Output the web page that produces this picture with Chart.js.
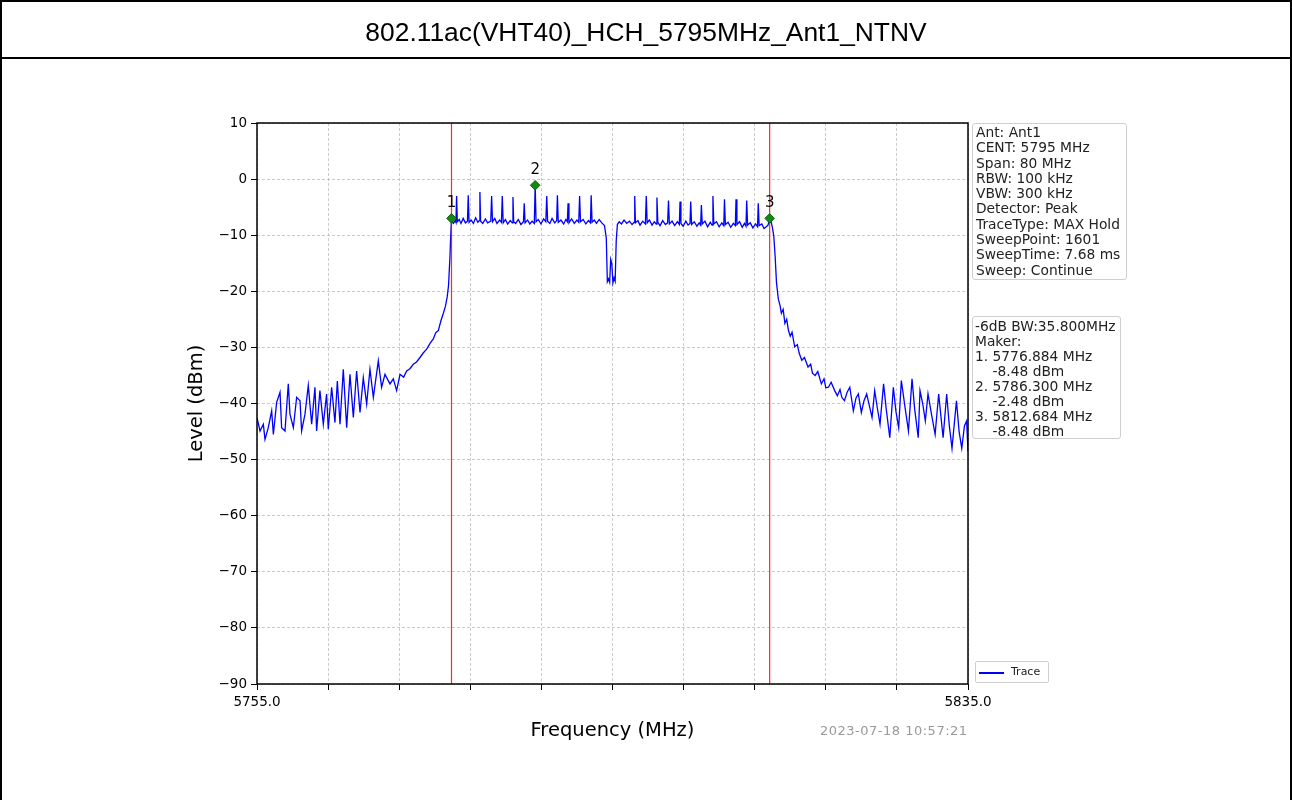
<!DOCTYPE html>
<html><head><meta charset="utf-8">
<script src="https://cdn.jsdelivr.net/npm/chart.js@4/dist/chart.umd.min.js"></script>
<style>
html,body{margin:0;padding:0;background:#fff;}
#page{position:relative;width:1292px;height:800px;overflow:hidden;font-family:"DejaVu Sans",sans-serif;}
#c{position:absolute;left:0;top:0;}
#frame{position:absolute;left:0;top:0;width:1288px;height:800px;border:2px solid #000;border-bottom:none;pointer-events:none;}
#sep{position:absolute;left:0;top:57px;width:1292px;height:2px;background:#000;}
#title{position:absolute;left:0;top:0;width:1292px;height:58px;line-height:64px;text-align:center;font-family:"Liberation Sans",Arial,sans-serif;font-size:26.4px;color:#000;}
.box{position:absolute;border:1px solid #cfcfcf;border-radius:3px;background:#fff;color:#222;font-size:13.8px;white-space:pre;}
.box div{height:15.3px;line-height:15.3px;}
#info{left:972px;top:123px;width:150px;height:154px;padding:1px 0 0 3px;}
#mk{left:972px;top:316px;width:145px;height:119px;padding:2px 0 0 2px;}
#mk div{height:15px;line-height:15px;}
#legend{position:absolute;left:975px;top:661px;width:72px;height:20px;border:1px solid #cfcfcf;border-radius:2px;}
#legend .ln{position:absolute;left:3px;top:10px;width:25px;height:1.5px;background:#0000ff;}
#legend .tx{position:absolute;left:35px;top:2px;font-size:11px;line-height:16px;color:#222;}
#stamp{position:absolute;left:820px;top:723px;font-size:13px;letter-spacing:0.5px;line-height:16px;color:#999;}
</style></head>
<body><div id="page">
<canvas id="c" width="1292" height="800"></canvas>
<div id="title"></div>
<div id="sep"></div>
<div id="frame"></div>
<div class="box" id="info"></div>
<div class="box" id="mk"></div>
<div id="legend"><div class="ln"></div><div class="tx"></div></div>
<div id="stamp"></div>
</div>
<script>
// ---------- data ----------
const chartTitle = "802.11ac(VHT40)_HCH_5795MHz_Ant1_NTNV";
const xTitle = "Frequency (MHz)";
const yTitle = "Level (dBm)";
const timeStamp = "2023-07-18 10:57:21";
const legendLabel = "Trace";
const xMin = 5755, xMax = 5835, xStep = 8;
const yMin = -90, yMax = 10, yStep = 10;
const infoLines = ["Ant: Ant1","CENT: 5795 MHz","Span: 80 MHz","RBW: 100 kHz","VBW: 300 kHz","Detector: Peak","TraceType: MAX Hold","SweepPoint: 1601","SweepTime: 7.68 ms","Sweep: Continue"];
const markerLines = ["-6dB BW:35.800MHz","Maker:","1. 5776.884 MHz","    -8.48 dBm","2. 5786.300 MHz","    -2.48 dBm","3. 5812.684 MHz","    -8.48 dBm"];
const markerNames = ["1","2","3"];
const markerFreq = [5776.884, 5786.300, 5812.684];
const markerLevel = [-7.0, -1.1, -7.0];   // plotted positions
const lineFreq = [5776.884, 5812.684];     // red vertical lines

const leftSkirt = [
[5755.0,-42.5],[5755.34,-44.9],[5755.71,-43.7],[5755.9,-46.4],[5756.27,-44.3],[5756.65,-41.3],[5756.84,-45.5],
[5757.21,-39.8],[5757.59,-38.0],[5757.77,-44.3],[5758.15,-44.9],[5758.52,-36.5],[5758.71,-41.9],[5759.09,-44.3],
[5759.46,-38.9],[5759.84,-39.5],[5760.02,-44.9],[5760.4,-41.9],[5760.77,-36.8],[5761.15,-43.7],[5761.52,-37.1],
[5761.71,-44.9],[5762.08,-37.7],[5762.46,-43.7],[5762.83,-38.3],[5763.02,-44.6],[5763.4,-37.1],[5763.77,-43.4],
[5764.04,-36.0],[5764.34,-43.7],[5764.71,-33.9],[5765.09,-44.3],[5765.46,-34.8],[5765.84,-42.5],[5766.21,-34.2],
[5766.59,-41.6],[5766.96,-35.4],[5767.34,-40.1],[5767.71,-33.9],[5768.09,-38.9],[5768.65,-32.4],[5769.02,-37.1],
[5769.4,-34.8],[5769.96,-36.5],[5770.34,-35.6],[5770.71,-37.7],[5771.09,-34.8],[5771.5,-35.3],[5771.84,-34.2],
[5772.2,-33.8],[5772.59,-33.0],[5772.95,-32.6],[5773.34,-31.8],[5773.7,-31.0],[5774.09,-30.3],[5774.5,-29.2],
[5774.84,-28.5],[5775.1,-27.4],[5775.4,-27.0],[5775.7,-25.2],[5775.95,-24.0],[5776.2,-22.7],[5776.4,-21.0],
[5776.55,-19.0],[5776.7,-14.2],[5776.8,-10.0]
];
const inBand = [
[5776.884,-7.0],[5776.95,-7.6],[5777.1,-7.9],[5777.3,-7.4],[5777.38,-7.7],[5777.46,-3.0],[5777.54,-7.6],
[5777.75,-7.2],[5777.95,-7.9],[5778.2,-7.0],[5778.45,-7.8],[5778.68,-7.5],[5778.77,-2.9],[5778.86,-7.7],
[5779.1,-7.3],[5779.35,-7.9],[5779.6,-6.9],[5779.85,-7.7],[5780.0,-7.4],[5780.08,-2.3],[5780.16,-7.5],
[5780.4,-7.9],[5780.7,-7.1],[5780.95,-7.8],[5781.3,-7.5],[5781.4,-3.0],[5781.5,-7.6],[5781.75,-7.0],
[5782.0,-7.9],[5782.3,-7.3],[5782.5,-7.7],[5782.6,-3.0],[5782.7,-7.8],[5782.95,-7.2],[5783.2,-8.0],
[5783.5,-7.4],[5783.72,-7.8],[5783.8,-3.2],[5783.88,-7.6],[5784.1,-7.9],[5784.4,-7.2],[5784.7,-8.1],
[5784.98,-7.6],[5785.07,-4.3],[5785.16,-7.8],[5785.45,-7.3],[5785.7,-8.0],[5785.95,-7.5],[5786.2,-7.9],
[5786.3,-1.1],[5786.4,-7.6],[5786.65,-7.2],[5786.95,-8.0],[5787.25,-7.1],[5787.5,-7.6],[5787.6,-3.0],
[5787.7,-7.5],[5787.95,-7.9],[5788.2,-7.0],[5788.5,-7.8],[5788.72,-7.4],[5788.8,-2.9],[5788.9,-7.7],
[5789.2,-7.3],[5789.5,-8.0],[5789.75,-7.2],[5789.92,-7.6],[5790.0,-4.3],[5790.1,-7.8],[5790.4,-7.1],
[5790.7,-7.9],[5791.0,-7.3],[5791.2,-7.7],[5791.3,-3.0],[5791.4,-7.6],[5791.7,-7.2],[5792.0,-8.0],
[5792.3,-7.4],[5792.52,-7.8],[5792.6,-2.9],[5792.7,-7.7],[5792.95,-7.3],[5793.2,-7.9],[5793.5,-7.2],
[5793.8,-7.8],[5794.1,-8.3],[5794.3,-10.5],[5794.42,-18.3],[5794.55,-17.8],[5794.68,-18.4],[5794.8,-14.3],
[5794.92,-15.0],[5795.05,-18.5],[5795.18,-17.6],[5795.3,-18.2],[5795.42,-11.0],[5795.55,-8.1],[5795.75,-7.6],
[5796.0,-8.0],[5796.3,-7.3],[5796.6,-7.9],[5796.9,-7.5],[5797.2,-8.1],[5797.42,-7.7],[5797.5,-3.0],
[5797.58,-7.8],[5797.85,-7.4],[5798.1,-8.2],[5798.4,-7.5],[5798.7,-8.0],[5798.8,-3.0],[5798.9,-7.8],
[5799.15,-7.3],[5799.45,-8.2],[5799.7,-7.6],[5799.92,-8.0],[5800.0,-3.3],[5800.1,-7.7],[5800.35,-8.3],
[5800.65,-7.4],[5800.95,-8.1],[5801.2,-7.8],[5801.3,-3.8],[5801.4,-8.0],[5801.7,-7.5],[5802.0,-8.3],
[5802.3,-7.6],[5802.52,-8.1],[5802.6,-4.0],[5802.7,-7.9],[5802.95,-8.4],[5803.25,-7.5],[5803.5,-8.2],
[5803.72,-7.9],[5803.8,-4.0],[5803.9,-8.1],[5804.2,-7.6],[5804.5,-8.4],[5804.75,-7.8],[5804.92,-8.2],
[5805.0,-4.6],[5805.1,-8.0],[5805.4,-7.5],[5805.7,-8.5],[5806.0,-7.7],[5806.2,-8.2],[5806.3,-3.0],
[5806.4,-8.0],[5806.7,-7.6],[5807.0,-8.5],[5807.3,-7.8],[5807.52,-8.3],[5807.6,-3.6],[5807.7,-8.1],
[5808.0,-7.7],[5808.3,-8.6],[5808.6,-7.9],[5808.82,-8.3],[5808.9,-3.6],[5809.0,-8.1],[5809.3,-7.6],
[5809.6,-8.6],[5809.85,-7.9],[5810.02,-8.4],[5810.1,-3.8],[5810.2,-8.2],[5810.5,-7.8],[5810.8,-8.7],
[5811.1,-8.0],[5811.32,-8.5],[5811.4,-4.3],[5811.5,-8.3],[5811.8,-8.0],[5812.05,-8.8],[5812.3,-8.5],
[5812.5,-8.2],[5812.684,-7.0],[5812.85,-7.6]
];
const rightSkirt = [
[5813.0,-8.7],[5813.15,-10.2],[5813.3,-13.8],[5813.45,-18.4],[5813.66,-21.4],[5813.85,-22.5],[5814.0,-23.9],
[5814.2,-23.2],[5814.4,-25.7],[5814.6,-25.0],[5814.8,-27.0],[5815.0,-28.0],[5815.2,-27.3],[5815.5,-29.9],
[5815.8,-29.5],[5816.0,-31.0],[5816.3,-32.3],[5816.6,-31.8],[5817.0,-33.5],[5817.3,-33.0],[5817.5,-34.6],
[5817.8,-35.0],[5818.1,-34.3],[5818.5,-36.5],[5818.8,-35.6],[5819.0,-37.2],[5819.3,-37.1],[5819.6,-36.2],
[5820.0,-37.7],[5820.3,-38.6],[5820.6,-37.5],[5820.8,-38.9],[5821.1,-39.5],[5821.4,-38.0],[5821.7,-37.1],
[5822.1,-41.3],[5822.4,-39.0],[5822.66,-38.3],[5823.0,-41.6],[5823.3,-39.5],[5823.6,-38.3],[5824.2,-42.5],
[5824.5,-37.7],[5824.8,-40.8],[5825.1,-43.7],[5825.5,-36.5],[5825.8,-41.0],[5826.2,-46.1],[5826.6,-37.1],
[5826.9,-41.5],[5827.2,-44.3],[5827.5,-35.9],[5827.9,-40.5],[5828.3,-44.9],[5828.7,-35.6],[5829.0,-41.0],
[5829.4,-46.1],[5829.6,-37.7],[5829.9,-40.0],[5830.2,-43.1],[5830.5,-38.3],[5830.9,-42.0],[5831.3,-45.5],
[5831.7,-38.3],[5832.0,-43.0],[5832.2,-46.1],[5832.6,-38.3],[5832.9,-44.0],[5833.2,-48.0],[5833.7,-39.5],
[5834.0,-45.0],[5834.3,-48.0],[5834.6,-44.0],[5834.85,-43.1],[5835.0,-48.6]
];

// ---------- text ----------
document.getElementById('title').textContent = chartTitle;
document.getElementById('stamp').textContent = timeStamp;
document.querySelector('#legend .tx').textContent = legendLabel;
const infoEl = document.getElementById('info');
infoLines.forEach(t => { const d = document.createElement('div'); d.textContent = t; infoEl.appendChild(d); });
const mkEl = document.getElementById('mk');
markerLines.forEach(t => { const d = document.createElement('div'); d.textContent = t; mkEl.appendChild(d); });

// ---------- chart ----------
const toPts = arr => arr.map(p => ({x: p[0], y: p[1]}));
const traceData = toPts(leftSkirt).concat(toPts(inBand), toPts(rightSkirt));
const minus = v => (v < 0 ? '\u2212' + Math.abs(v) : String(v));

const framePlugin = {
  id: 'frame',
  afterDatasetsDraw(chart) {
    const {ctx, chartArea: a} = chart;
    ctx.save();
    ctx.strokeStyle = '#000';
    ctx.lineWidth = 1.5;
    ctx.strokeRect(a.left, a.top, a.right - a.left, a.bottom - a.top);
    // marker numbers
    const meta = chart.getDatasetMeta(3);
    ctx.fillStyle = '#000';
    ctx.font = '15px "DejaVu Sans"';
    ctx.textAlign = 'center';
    ctx.textBaseline = 'middle';
    meta.data.forEach((pt, i) => { ctx.fillText(markerNames[i], pt.x, pt.y - 15); });
    ctx.restore();
  }
};

const datasets = [
  {label: legendLabel, data: traceData, borderColor: '#0000ff', borderWidth: 1.3, pointRadius: 0, tension: 0, order: 3},
  {label: 'm1', data: [{x: lineFreq[0], y: yMin}, {x: lineFreq[0], y: yMax}], borderColor: 'rgba(255,0,0,0.85)', borderWidth: 1.2, pointRadius: 0, order: 2},
  {label: 'm3', data: [{x: lineFreq[1], y: yMin}, {x: lineFreq[1], y: yMax}], borderColor: 'rgba(255,0,0,0.85)', borderWidth: 1.2, pointRadius: 0, order: 2},
  {label: 'markers', data: markerFreq.map((f, i) => ({x: f, y: markerLevel[i]})), showLine: false,
   pointStyle: 'rectRot', pointRadius: 4.8, backgroundColor: '#138a13', borderColor: '#0b600b', borderWidth: 1, order: 1}
];

new Chart(document.getElementById('c'), {
  type: 'line',
  data: {datasets},
  plugins: [framePlugin],
  options: {
    responsive: false, animation: false, devicePixelRatio: 1,
    layout: {padding: {left: 170, top: 123, right: 324, bottom: 0}},
    plugins: {legend: {display: false}, tooltip: {enabled: false}},
    scales: {
      x: {
        type: 'linear', min: xMin, max: xMax,
        afterFit: s => { s.height = 116; },
        ticks: {stepSize: xStep, autoSkip: false, maxRotation: 0, padding: 4, color: '#000',
          font: {family: '"DejaVu Sans"', size: 13.5},
          callback: v => (v === xMin || v === xMax) ? v.toFixed(1) : ''},
        grid: {color: 'rgba(170,170,170,0.75)', lineWidth: 0.8, tickColor: '#000', tickLength: 6, tickWidth: 1},
        border: {display: false, dash: [3, 2]},
        title: {display: true, text: xTitle, color: '#000', font: {family: '"DejaVu Sans"', size: 19.5}, padding: {top: 0, bottom: 57}}
      },
      y: {
        type: 'linear', min: yMin, max: yMax,
        afterFit: s => { s.width = 87; },
        ticks: {stepSize: yStep, padding: 4, color: '#000', font: {family: '"DejaVu Sans"', size: 13.5}, callback: v => minus(v)},
        grid: {color: 'rgba(170,170,170,0.75)', lineWidth: 0.8, tickColor: '#000', tickLength: 6, tickWidth: 1},
        border: {display: false, dash: [3, 2]},
        title: {display: true, text: yTitle, color: '#000', font: {family: '"DejaVu Sans"', size: 19.5}, padding: {top: 15, bottom: 0}}
      }
    }
  }
});
</script>
</body></html>
